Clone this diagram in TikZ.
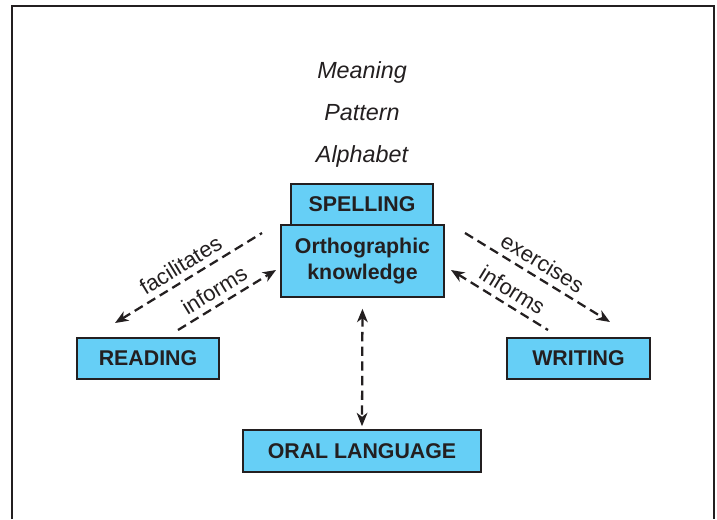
\documentclass[tikz,border=0pt]{standalone}
\usepackage{fontspec}
\setmainfont{Liberation Sans}
\usetikzlibrary{arrows.meta}

\definecolor{boxblue}{RGB}{102,207,246}
\definecolor{inkgray}{RGB}{35,31,32}

\tikzset{
  termbox/.style={draw=inkgray, fill=boxblue, line width=1.7pt, text=inkgray,
    font=\fontsize{16}{19}\selectfont\bfseries, inner sep=0pt, align=center},
  linkarrow/.style={draw=inkgray, line width=1.7pt, dash pattern=on 7pt off 4pt, -{Stealth[length=10pt,width=8pt,inset=3pt]}},
  linklabel/.style={font=\fontsize{16.5}{19}\selectfont, text=inkgray, sloped, above, inner sep=4.5pt},
  cuelabel/.style={font=\fontsize{17.5}{20}\selectfont\itshape, text=inkgray, anchor=base}
}

\begin{document}
\begin{tikzpicture}[x=0.75pt,y=-0.75pt]
    \useasboundingbox (0,0) rectangle (717,519);

    % Frame, open at the bottom
    \draw[inkgray, line width=1.5pt] (12,519) -- (12,6) -- (714,6) -- (714,519);

    % Cue words
    \node[cuelabel] (meaning) at (362,78) {Meaning};
    \node[cuelabel] (pattern) at (362,120) {Pattern};
    \node[cuelabel] (alphabet) at (362,162) {Alphabet};

    % Centre nodes
    \node[termbox, minimum width=106.5pt, minimum height=30.75pt] (spelling) at (362,204.5) {SPELLING};
    \node[termbox, minimum width=122.25pt, minimum height=54pt] (ortho) at (362.5,261) {Orthographic\\knowledge};

    % Side nodes
    \node[termbox, minimum width=106.5pt, minimum height=30.75pt] (reading) at (148,358.5) {READING};
    \node[termbox, minimum width=107.25pt, minimum height=30.75pt] (writing) at (578.5,358.5) {WRITING};

    % Bottom node
    \node[termbox, minimum width=178.5pt, minimum height=31.5pt] (oral) at (362,451) {ORAL LANGUAGE};

    % Arrow ends
    \coordinate (facA) at (115,323);
    \coordinate (facB) at (262,233);
    \coordinate (infLA) at (178,330);
    \coordinate (infLB) at (276,270);
    \coordinate (exeA) at (465,233);
    \coordinate (exeB) at (610,322);
    \coordinate (infRA) at (451,270);
    \coordinate (infRB) at (548,330);

    % Left arrows
    \draw[linkarrow, {Stealth[length=10pt,width=8pt,inset=3pt]}-] (facA) -- node[linklabel] {facilitates} (facB);
    \draw[linkarrow] (infLA) -- node[linklabel, pos=0.45] {informs} (infLB);

    % Right arrows
    \draw[linkarrow] (exeA) -- node[linklabel, pos=0.48] {exercises} (exeB);
    \draw[linkarrow, {Stealth[length=10pt,width=8pt,inset=3pt]}-] (infRA) -- node[linklabel, pos=0.55] {informs} (infRB);

    % Oral language link
    \draw[linkarrow, {Stealth[length=10pt,width=8pt,inset=3pt]}-{Stealth[length=10pt,width=8pt,inset=3pt]},
      shorten <=8pt, shorten >=2pt] (ortho.south) -- (oral.north);
\end{tikzpicture}
\end{document}
